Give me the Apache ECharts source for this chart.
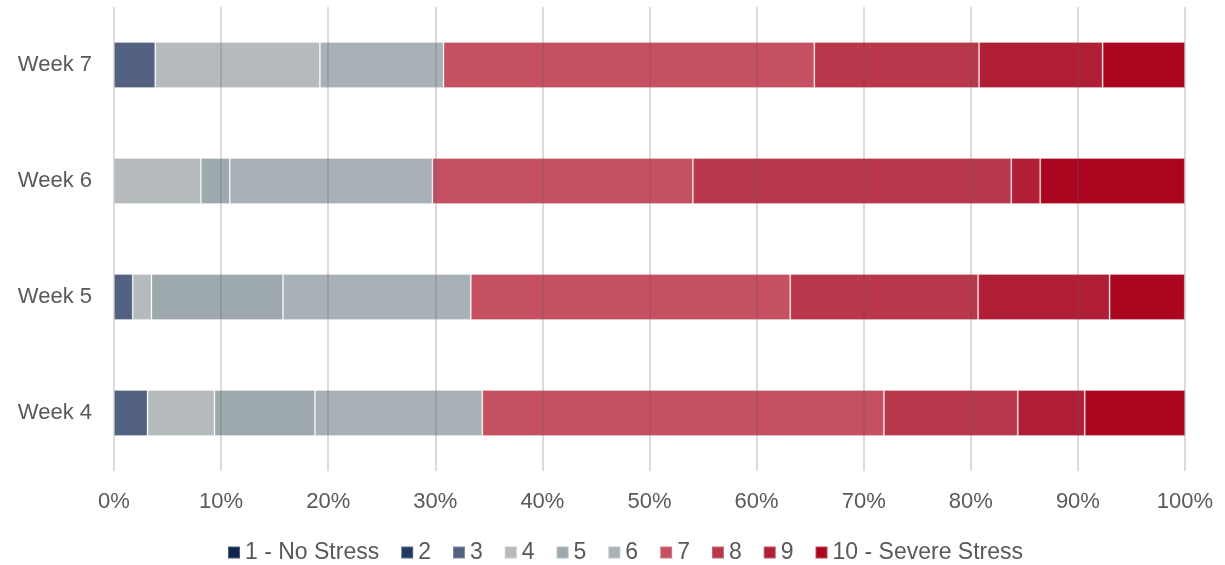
<!DOCTYPE html>
<html>
<head>
<meta charset="utf-8">
<script src="https://cdn.jsdelivr.net/npm/echarts@6/dist/echarts.min.js"></script>
<style>
  html, body { margin: 0; padding: 0; background: #fff; }
  #chart { width: 1225px; height: 565px; }
</style>
</head>
<body>
<div id="chart"></div>
<script>
// Stress levels reported per week, as % of respondents
const weeks = ['Week 4', 'Week 5', 'Week 6', 'Week 7'];
const levelNames = ['1 - No Stress', '2', '3', '4', '5', '6', '7', '8', '9', '10 - Severe Stress'];
const level1 = [0, 0, 0, 0];
const level2 = [0, 0, 0, 0];
const level3 = [3.13, 1.75, 0, 3.85];
const level4 = [6.25, 1.75, 8.11, 15.38];
const level5 = [9.38, 12.28, 2.70, 0];
const level6 = [15.63, 17.54, 18.92, 11.54];
const level7 = [37.5, 29.82, 24.32, 34.62];
const level8 = [12.5, 17.54, 29.73, 15.38];
const level9 = [6.25, 12.28, 2.70, 11.54];
const level10 = [9.38, 7.02, 13.51, 7.69];
const levelData = [level1, level2, level3, level4, level5, level6, level7, level8, level9, level10];
const xTicks = { min: 0, max: 100, interval: 10 };

const palette = ['#11254a', '#22385f', '#536280', '#b5bbbd', '#9ea9ad',
                 '#a8b2b6', '#c45062', '#b9374a', '#b11f37', '#aa0620'];

const textColor = '#595959';
const fontFamily = '"Liberation Sans", Arial, sans-serif';

const chart = echarts.init(document.getElementById('chart'), null, { renderer: 'canvas' });

chart.setOption({
  animation: false,
  color: palette,
  textStyle: { fontFamily: fontFamily },
  grid: { left: 114, right: 40, top: 7, bottom: 94, containLabel: false },
  legend: {
    data: levelNames,
    left: 222,
    bottom: -4,
    itemWidth: 12,
    itemHeight: 12,
    itemGap: 21,
    icon: 'rect',
    textStyle: { fontSize: 23, color: textColor, fontFamily: fontFamily }
  },
  xAxis: {
    type: 'value',
    min: xTicks.min,
    max: xTicks.max,
    interval: xTicks.interval,
    z: 5,
    axisLine: { show: false },
    axisTick: { show: false },
    axisLabel: { formatter: '{value}%', fontSize: 22, color: textColor, margin: 20 },
    splitLine: { show: true, lineStyle: { color: 'rgba(90,90,90,0.22)', width: 2 } }
  },
  yAxis: {
    type: 'category',
    data: weeks,
    axisLine: { show: false },
    axisTick: { show: false },
    axisLabel: { fontSize: 22, color: textColor, margin: 22 },
    splitLine: { show: false }
  },
  series: levelNames.map((name, i) => ({
    name: name,
    type: 'bar',
    stack: 'total',
    barWidth: 46,
    data: levelData[i],
    itemStyle: {
      color: palette[i],
      borderColor: 'rgba(255,255,255,0.25)',
      borderWidth: 1
    }
  }))
});
</script>
</body>
</html>
